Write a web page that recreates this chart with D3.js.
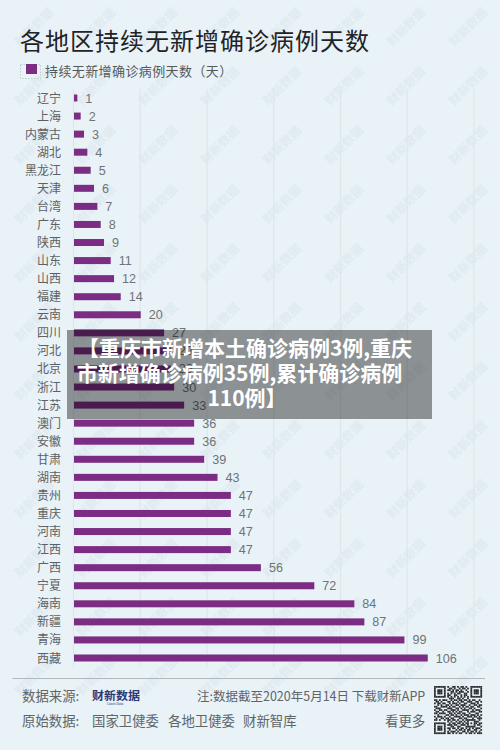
<!DOCTYPE html>
<html><head><meta charset="utf-8">
<script src="https://cdn.jsdelivr.net/npm/d3@7/dist/d3.min.js"></script>
<style>html,body{margin:0;padding:0;background:#e9f2f6}svg{display:block}</style>
</head><body><svg id="c" width="500" height="750"></svg>
<script>
const categories=["辽宁","上海","内蒙古","湖北","黑龙江","天津","台湾","广东","陕西","山东","山西","福建","云南","四川","河北","北京","浙江","江苏","澳门","安徽","甘肃","湖南","贵州","重庆","河南","江西","广西","宁夏","海南","新疆","青海","西藏"];
const values=[1,2,3,4,5,6,7,8,9,11,12,14,20,27,29,29,30,33,36,36,39,43,47,47,47,47,56,72,84,87,99,106];
const gridTicks=[0,20,40,60,80,100,120];
const titleText="各地区持续无新增确诊病例天数";
const legendText="持续无新增确诊病例天数\uFF08天\uFF09";
const bannerLines=["【重庆市新增本土确诊病例3例,重庆","市新增确诊病例35例,累计确诊病例","110例】"];
const bannerCentres=[245,239.5,247];
const footerTexts=[["数据来源:",22,701,13.4],["注:数据截至2020年5月14日 下载财新APP",197,701,12.5],["原始数据:",22,726,13.4],["国家卫健委",92,726,13.4],["各地卫健委",168,726,13.4],["财新智库",243,726,13.4],["看更多",385,726,13.4]];
const qrRows=[
"11111110100110101101001111111",
"10000010011010010110101000001",
"10111010110101101001001011101",
"10111010001101011100101011101",
"10111010101010110011001011101",
"10000010110011001011001000001",
"11111110101010101010101111111",
"00000000011100110100100000000",
"11010111001011011011010110010",
"01101000110100101100111001101",
"10110110010111010011001110100",
"00101001101001101110010011011",
"11001111010110010101101100110",
"01110000111001101010011010001",
"10011011001110100111100101110",
"01100100110101011000101110011",
"11011110011010110110010001100",
"00100001101101001011101110101",
"10111010010011110100111011010",
"01001101101100011011000100111",
"11010010110110100101111110010",
"00000000101001011010100011100",
"11111110010110110101101011011",
"10000010111011001110100010110",
"10111010001100110001111110001",
"10111010110110101101010101110",
"10111010010001011010110011001",
"10000010101110100110101101010",
"11111110110101011001011010111"];
const font='"Noto Sans CJK SC","Noto Sans",sans-serif';
const svg=d3.select("#c").style("font-family",font);
const x=d3.scaleLinear().domain([0,120]).range([74,474.5]);
const y=d3.scalePoint().domain(categories).range([98,658]);
const barH=7;
svg.append("rect").attr("width",500).attr("height",750).attr("fill","#e9f2f6");
// watermark lattice (kept inside the page)
const wm=[];
d3.range(0,12).forEach(r=>d3.range(0,8).forEach(c=>wm.push([c*62+37,r*59+30])));
svg.append("g").selectAll("text").data(wm.filter(d=>d[1]<=680)).join("text")
 .attr("transform",d=>`translate(${d[0]},${d[1]}) rotate(-45)`)
 .attr("text-anchor","middle").attr("font-size",12).attr("font-weight",700).attr("fill","#dfeaf1").text("财新数据");
// grid
svg.append("g").selectAll("line").data(gridTicks).join("line")
 .attr("x1",d=>x(d)-.5).attr("x2",d=>x(d)-.5).attr("y1",89).attr("y2",667)
 .attr("stroke","#dfe6ea").attr("stroke-width",1.2);
// title
svg.append("text").attr("x",20).attr("y",50).attr("font-size",24).attr("letter-spacing",1).attr("fill","#1f2326").text(titleText);
// legend
svg.append("rect").attr("x",20.5).attr("y",64.5).attr("width",20).attr("height",14).attr("fill","none").attr("stroke","#aab2b8").attr("stroke-width",.6).attr("stroke-dasharray","1.5 1.5");
svg.append("rect").attr("x",26).attr("y",64).attr("width",11).attr("height",10).attr("fill","#7b2d84");
svg.append("text").attr("x",45).attr("y",76).attr("font-size",13).attr("letter-spacing",.4).attr("fill","#55595c").text(legendText);
// bars
svg.append("g").selectAll("rect").data(values).join("rect")
 .attr("x",x(0)).attr("y",(d,i)=>y(categories[i])-barH/2).attr("width",d=>x(d)-x(0)).attr("height",barH).attr("fill","#7b2d84");
svg.append("g").selectAll("text").data(categories).join("text")
 .attr("x",61).attr("y",d=>y(d)+4.5).attr("text-anchor","end").attr("font-size",12).attr("fill","#5d6164").text(d=>d);
svg.append("g").selectAll("text").data(values).join("text")
 .attr("x",d=>x(d)+8).attr("y",(d,i)=>y(categories[i])+4.5).attr("font-size",12.6).attr("fill","#6f7376").attr("font-family","Liberation Sans,sans-serif").text(d=>d);
// footer
svg.append("line").attr("x1",12.5).attr("x2",485).attr("y1",678.5).attr("y2",678.5).attr("stroke","#a3a9ac").attr("stroke-width",.8);
svg.append("g").selectAll("text").data(footerTexts).join("text").attr("x",d=>d[1]).attr("y",d=>d[2]).attr("font-size",d=>d[3]).attr("fill","#606468").text(d=>d[0]);
svg.append("text").attr("x",92).attr("y",700).attr("font-size",11.8).attr("font-weight",700).attr("fill","#2b3a78").attr("textLength",48).attr("lengthAdjust","spacingAndGlyphs").text("财新数据");
svg.append("text").attr("x",115).attr("y",704.5).attr("font-size",3.2).attr("text-anchor","middle").attr("fill","#2b3a78").text("Caixin Data");
// QR
const qx=d3.scaleBand().domain(d3.range(29)).range([434,482]);
const qy=d3.scaleBand().domain(d3.range(29)).range([686,734]);
const cells=[];qrRows.forEach((row,r)=>[...row].forEach((v,c)=>{if(v==="1")cells.push([c,r])}));
svg.append("g").selectAll("rect").data(cells).join("rect").attr("x",d=>qx(d[0])).attr("y",d=>qy(d[1])).attr("width",qx.bandwidth()+.1).attr("height",qy.bandwidth()+.1).attr("fill","#2a2c30");
// banner
svg.append("rect").attr("x",67).attr("y",330).attr("width",365).attr("height",89).attr("fill","#000").attr("fill-opacity",.4);
svg.append("g").selectAll("text").data(bannerLines).join("text").attr("x",(d,i)=>bannerCentres[i]).attr("y",(d,i)=>356+i*25)
 .attr("text-anchor","middle").attr("font-size",21).attr("font-weight",700).attr("fill","#fff").text(d=>d);
</script></body></html>
